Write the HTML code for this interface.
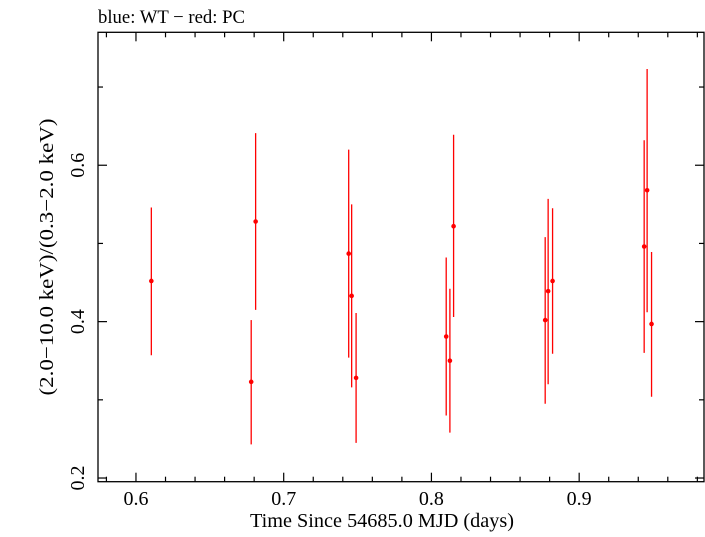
<!DOCTYPE html>
<html><head><meta charset="utf-8"><style>
html,body{margin:0;padding:0;background:#fff;}
svg text{font-family:"Liberation Serif",serif;fill:#000;}
</style></head><body>
<svg id="chart" width="705" height="532" viewBox="0 0 705 532" xmlns="http://www.w3.org/2000/svg">
<text x="98" y="23" font-size="19" textLength="147" lengthAdjust="spacingAndGlyphs">blue: WT − red: PC</text>
<rect x="98" y="32.3" width="606" height="449.4" fill="none" stroke="#000" stroke-width="1.3"/>
<g id="axes"></g>
<g id="marks"></g>
<text x="382" y="527" font-size="20" text-anchor="middle" textLength="264" lengthAdjust="spacingAndGlyphs">Time Since 54685.0 MJD (days)</text>
<text transform="translate(53,257) rotate(-90)" font-size="20" text-anchor="middle" textLength="277" lengthAdjust="spacingAndGlyphs">(2.0−10.0 keV)/(0.3−2.0 keV)</text>
</svg>
<script>
const times=[0.6104,0.678,0.681,0.744,0.746,0.749,0.810,0.8125,0.815,0.877,0.879,0.882,0.944,0.946,0.949];
const ratios=[0.452,0.323,0.528,0.487,0.433,0.328,0.381,0.350,0.522,0.402,0.439,0.452,0.496,0.568,0.397];
const errHigh=[0.546,0.402,0.641,0.620,0.550,0.411,0.482,0.442,0.639,0.508,0.557,0.545,0.632,0.723,0.489];
const errLow=[0.357,0.243,0.415,0.354,0.316,0.245,0.280,0.258,0.406,0.295,0.320,0.359,0.360,0.412,0.304];
const xTickLabels=["0.6","0.7","0.8","0.9"];
const yTickLabels=["0.2","0.4","0.6"];
const X0=98,X1=704,Y0=481.7,Y1=32.3,xmin=0.5743,xmax=0.9845,ymin=0.1953,ymax=0.770;
function sx(v){return X0+(v-xmin)/(xmax-xmin)*(X1-X0);}
function sy(v){return Y0-(v-ymin)/(ymax-ymin)*(Y0-Y1);}
const NS="http://www.w3.org/2000/svg";
const axes=document.getElementById('axes'),marks=document.getElementById('marks');
function ln(p,x1,y1,x2,y2,c,w){const l=document.createElementNS(NS,'line');l.setAttribute('x1',x1);l.setAttribute('y1',y1);l.setAttribute('x2',x2);l.setAttribute('y2',y2);l.setAttribute('stroke',c);l.setAttribute('stroke-width',w);p.appendChild(l);return l;}
for(let i=0;i<=20;i++){const v=0.58+i*0.02;if(v>xmax)break;const x=sx(v);const major=Math.abs((v*10)-Math.round(v*10))<1e-6;const L=major?9:5;
const a=ln(axes,x,Y0,x,Y0-L,'#000',1.2);
const b=ln(axes,x,Y1,x,Y1+L,'#000',1.2);}
xTickLabels.forEach(s=>{const t=document.createElementNS(NS,'text');t.setAttribute('x',sx(parseFloat(s)));t.setAttribute('y',505);t.setAttribute('font-size','20');t.setAttribute('text-anchor','middle');t.textContent=s;


axes.appendChild(t);});
for(let i=0;i<=6;i++){const v=0.2+i*0.1;if(v>ymax)break;const y=sy(v);const major=(i%2===0);const L=major?9:5;
const a=ln(axes,X0,y,X0+L,y,'#000',1.2);
const b=ln(axes,X1,y,X1-L,y,'#000',1.2);}
yTickLabels.forEach(s=>{const t=document.createElementNS(NS,'text');t.setAttribute('transform','translate(84,'+sy(parseFloat(s))+') rotate(-90)');t.setAttribute('font-size','20');t.setAttribute('text-anchor','middle');t.textContent=s;


axes.appendChild(t);});
times.forEach((tv,i)=>{const x=sx(tv);
const e=ln(marks,x,sy(errHigh[i]),x,sy(errLow[i]),'#f00',1.3);


const c=document.createElementNS(NS,'circle');c.setAttribute('cx',x);c.setAttribute('cy',sy(ratios[i]));c.setAttribute('r',2.3);c.setAttribute('fill','#f00');


marks.appendChild(c);});
</script>
</body></html>
